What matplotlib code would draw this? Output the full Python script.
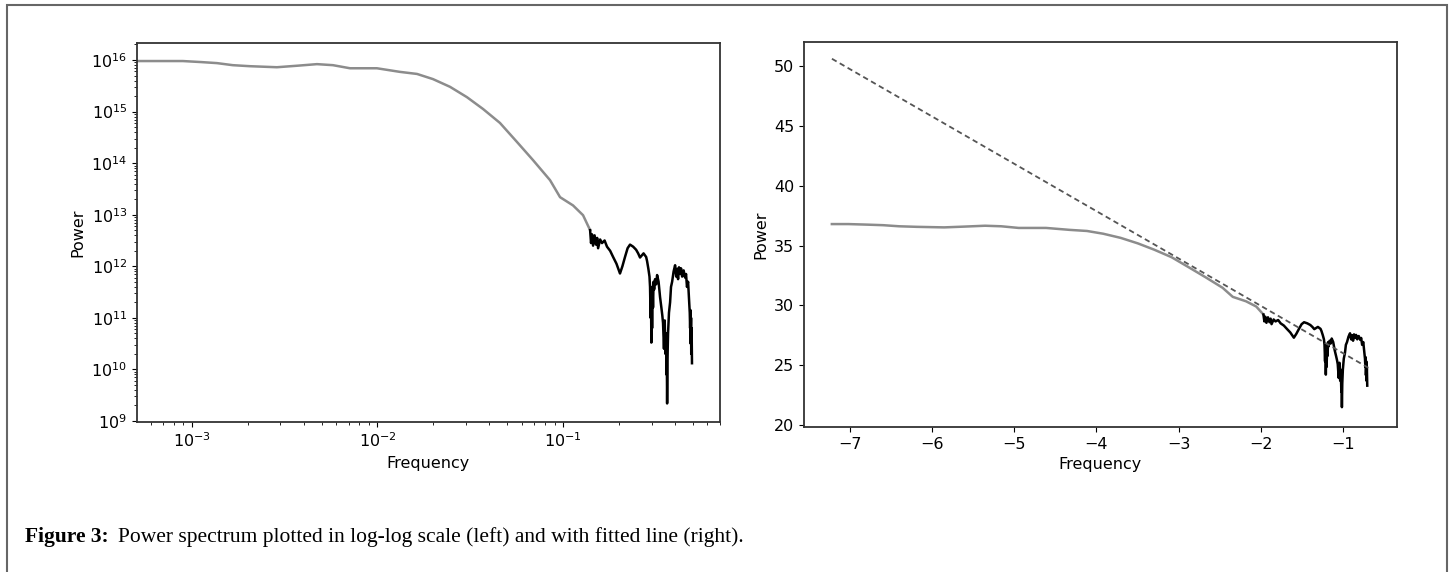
import numpy as np
import matplotlib.pyplot as plt
from matplotlib.patches import Rectangle
from matplotlib.ticker import LogLocator, NullFormatter

# smooth low-frequency part of the spectrum (grey), log10 values
logf_smooth = [-3.136, -3.049, -2.950, -2.865, -2.780, -2.687, -2.542, -2.430, -2.326,
               -2.240, -2.148, -2.003, -1.879, -1.787, -1.701, -1.609, -1.518, -1.431,
               -1.340, -1.248, -1.162, -1.070, -1.016, -0.946, -0.892, -0.854]
logp_smooth = [15.98, 15.98, 15.96, 15.94, 15.90, 15.88, 15.86, 15.89, 15.92,
               15.90, 15.84, 15.84, 15.77, 15.73, 15.63, 15.48, 15.28, 15.05,
               14.78, 14.41, 14.06, 13.67, 13.34, 13.18, 12.99, 12.70]

# noisy high-frequency part (black)
logf_noisy = [-0.854, -0.849, -0.844, -0.838, -0.830, -0.822, -0.816, -0.811, -0.800,
              -0.790, -0.776, -0.763, -0.746, -0.730, -0.712, -0.693, -0.680, -0.666,
              -0.652, -0.639, -0.622, -0.606, -0.595, -0.585, -0.566, -0.552, -0.547,
              -0.540, -0.534, -0.531, -0.528, -0.526, -0.524, -0.522, -0.520, -0.517,
              -0.515, -0.512, -0.509, -0.504, -0.498, -0.493, -0.485, -0.477, -0.470,
              -0.465, -0.461, -0.456, -0.452, -0.448, -0.445, -0.442, -0.441, -0.439,
              -0.437, -0.434, -0.429, -0.423, -0.418, -0.412, -0.404, -0.396, -0.390,
              -0.385, -0.380, -0.375, -0.369, -0.364, -0.358, -0.350, -0.342, -0.337,
              -0.332, -0.326, -0.320, -0.317, -0.315, -0.313, -0.312, -0.310, -0.309,
              -0.307, -0.305]
logp_noisy = [12.70, 12.45, 12.62, 12.40, 12.60, 12.42, 12.55, 12.35, 12.52,
              12.45, 12.50, 12.38, 12.30, 12.18, 12.05, 11.86, 12.00, 12.18,
              12.35, 12.42, 12.38, 12.32, 12.25, 12.17, 12.25, 12.18, 12.10,
              11.95, 11.80, 11.60, 11.00, 11.60, 10.52, 11.30, 10.80, 11.50,
              11.20, 11.70, 11.55, 11.75, 11.65, 11.83, 11.70, 11.40, 11.20,
              11.05, 10.90, 10.40, 10.95, 10.30, 10.70, 9.90, 10.40, 9.34,
              10.20, 10.70, 11.10, 11.30, 11.60, 11.70, 11.90, 12.02, 11.80,
              11.95, 11.75, 11.98, 11.85, 11.96, 11.80, 11.92, 11.78, 11.85,
              11.60, 11.70, 11.30, 11.10, 10.80, 11.15, 10.50, 11.00, 10.30,
              10.80, 10.12]

# fitted line on the ln-ln plot (end points)
fit_lnf = [-7.22, -0.69]
fit_lnp = [50.6, 24.8]

freq_smooth = 10 ** np.array(logf_smooth)
power_smooth = 10 ** np.array(logp_smooth)
freq_noisy = 10 ** np.array(logf_noisy)
power_noisy = 10 ** np.array(logp_noisy)

grey = '#8c8c8c'
plt.rcParams['font.size'] = 11.5

fig = plt.figure(figsize=(14.53, 5.72), dpi=100)
W, H = 1453, 572

def add_ax(x0, x1, y0, y1):
    return fig.add_axes([x0 / W, 1 - y1 / H, (x1 - x0) / W, (y1 - y0) / H])

# left: log-log, the DC bin (f = 0) is clipped to the left edge
ax1 = add_ax(137, 720, 43, 422)
ax1.loglog(np.concatenate([[0.0], freq_smooth]), np.concatenate([[power_smooth[0]], power_smooth]),
           color=grey, lw=1.8)
ax1.loglog(freq_noisy, power_noisy, color='black', lw=1.8)
ax1.set_xlim(10 ** -3.296, 10 ** -0.154)
ax1.set_ylim(10 ** 8.98, 10 ** 16.33)
ax1.yaxis.set_major_locator(LogLocator(base=10, numticks=20))
ax1.yaxis.set_minor_locator(LogLocator(base=10, subs=np.arange(2, 10), numticks=20))
ax1.yaxis.set_minor_formatter(NullFormatter())
ax1.set_xlabel('Frequency')
ax1.set_ylabel('Power')

# right: natural log of both, with fitted line
ax2 = add_ax(804, 1397, 42, 427)
ax2.plot(np.log(freq_smooth), np.log(power_smooth), color=grey, lw=1.8)
ax2.plot(np.log(freq_noisy), np.log(power_noisy), color='black', lw=1.8)
ax2.plot(fit_lnf, fit_lnp, color='#555555', lw=1.3, dashes=(3, 2))
ax2.set_xlim(-7.56, -0.34)
ax2.set_ylim(19.85, 52.0)
ax2.set_yticks([20, 25, 30, 35, 40, 45, 50])
ax2.set_xticks([-7, -6, -5, -4, -3, -2, -1])
ax2.set_xlabel('Frequency')
ax2.set_ylabel('Power')

for ax in (ax1, ax2):
    for s in ax.spines.values():
        s.set_color('#333333')
        s.set_linewidth(1.3)

# outer frame and caption
fig.patches.append(Rectangle((7 / W, -0.02), (1447 - 7) / W, 1 - 5 / H + 0.02,
                             transform=fig.transFigure, fill=False,
                             edgecolor='#666666', lw=1.5))
t1 = fig.text(25 / W, 1 - 542 / H, 'Figure 3:', fontsize=15.5, fontweight='bold',
              family='Liberation Serif', va='baseline', ha='left')
fig.canvas.draw()
bb = t1.get_window_extent(fig.canvas.get_renderer())
fig.text((bb.x1 + 9) / W, 1 - 542 / H,
         'Power spectrum plotted in log-log scale (left) and with fitted line (right).',
         fontsize=15.5, family='Liberation Serif', va='baseline', ha='left')

fig.savefig('out.png', dpi=100)
